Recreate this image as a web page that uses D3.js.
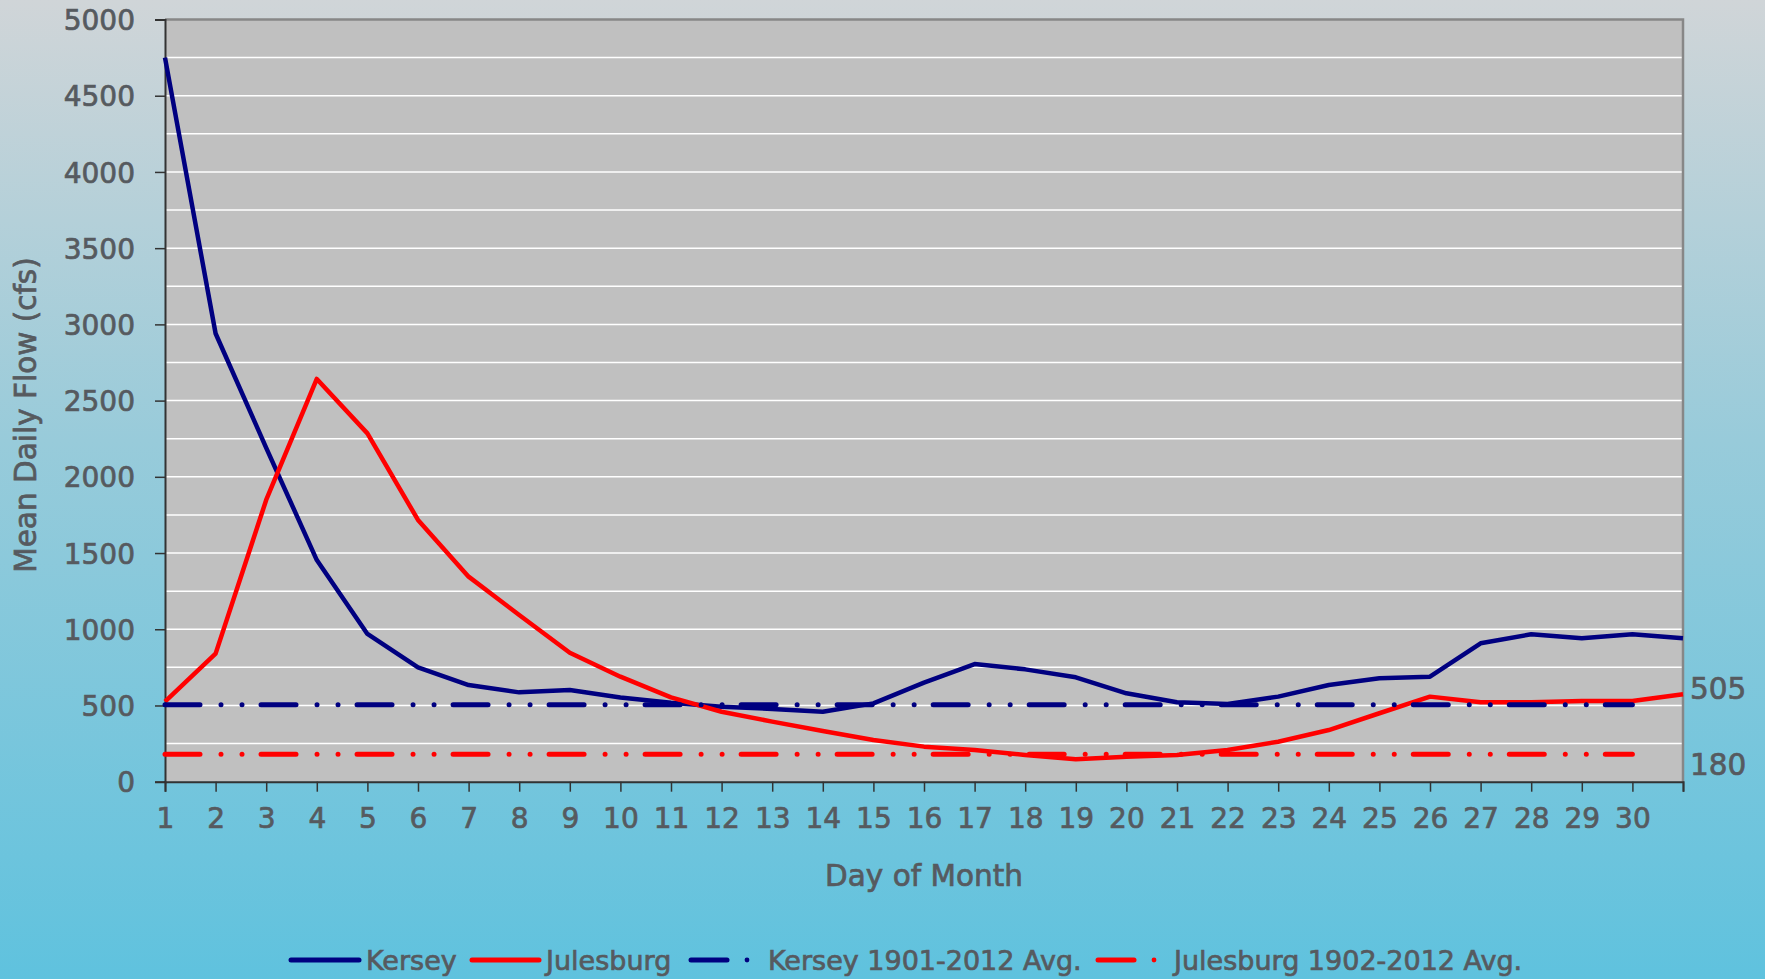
<!DOCTYPE html>
<html><head><meta charset="utf-8">
<script src="https://cdn.jsdelivr.net/npm/d3@7"></script>
<style>html,body{margin:0;padding:0;overflow:hidden}svg{display:block}
text{stroke:#565a5f;stroke-width:0.7px;paint-order:stroke}</style>
</head><body>
<script>
const days = d3.range(1, 32);
const kersey = [4750,2940,2190,1454,969,750,634,586,601,553,518,492,477,459,514,650,772,737,685,580,521,510,558,634,678,689,908,967,941,967,941];
const julesburg = [525,840,1848,2642,2285,1717,1345,1094,846,689,553,459,394,333,274,230,208,175,147,164,175,208,262,339,449,558,521,521,529,529,573];
const kerseyAvg = 505;
const julesburgAvg = 180;
const avgDays = [1, 30];
const yTicks = d3.range(0, 5001, 500);
const xTickLabels = d3.range(1, 31);
const seriesNames = ["Kersey", "Julesburg", "Kersey 1901-2012 Avg.", "Julesburg 1902-2012 Avg."];

const W = 1765, H = 979;
const FONT = "'DejaVu Sans', sans-serif";
const TXT = "#565a5f";
const NAVY = "#000080", RED = "#ff0000";
const DASH = "35,21,0.01,21,0.01,19";

const svg = d3.select("body").append("svg").attr("width", W).attr("height", H);
const defs = svg.append("defs");
const g = defs.append("linearGradient").attr("id", "bg").attr("x1", 0).attr("y1", 0).attr("x2", 0).attr("y2", 1);
g.append("stop").attr("offset", "0%").attr("stop-color", "#d0d5d8");
g.append("stop").attr("offset", "45%").attr("stop-color", "#98cbda");
g.append("stop").attr("offset", "100%").attr("stop-color", "#5fc2de");
svg.append("rect").attr("width", W).attr("height", H).attr("fill", "url(#bg)");

const x = d3.scaleLinear().domain([1, 31]).range([165, 1683]);
const y = d3.scaleLinear().domain([0, 5000]).range([781.7, 19.5]);

// plot area
svg.append("rect").attr("x", x(1)).attr("y", y(5000)).attr("width", x(31) - x(1)).attr("height", y(0) - y(5000)).attr("fill", "#c0c0c0");

// gridlines
svg.append("g").selectAll("line").data(d3.range(250, 5000, 250)).join("line")
  .attr("x1", x(1)).attr("x2", x(31)).attr("y1", d => y(d)).attr("y2", d => y(d))
  .attr("stroke", "#ffffff").attr("stroke-width", 1.5);

// borders top/right
svg.append("path").attr("d", `M${x(1)},${y(5000)}H${x(31)}V${y(0)}`).attr("fill", "none").attr("stroke", "#878787").attr("stroke-width", 2.5);

// y axis
const yAxis = svg.append("g").attr("transform", `translate(${x(1)},0)`)
  .call(d3.axisLeft(y).tickValues(yTicks).tickSize(10).tickPadding(20).tickFormat(d3.format("d")));
yAxis.select(".domain").attr("stroke", "#333").attr("stroke-width", 2);
yAxis.selectAll(".tick line").attr("stroke", "#333").attr("stroke-width", 1.5);
yAxis.selectAll("text").attr("font-family", FONT).attr("font-size", 28).attr("fill", TXT).attr("dy", "0.36em");

// x axis
const xAxis = svg.append("g").attr("transform", `translate(0,${y(0)})`)
  .call(d3.axisBottom(x).tickValues(days).tickSize(10).tickPadding(16)
    .tickFormat(d => xTickLabels.includes(d) ? String(d) : ""));
xAxis.select(".domain").attr("stroke", "#333").attr("stroke-width", 2);
xAxis.selectAll(".tick line").attr("stroke", "#333").attr("stroke-width", 1.5);
xAxis.selectAll("text").attr("font-family", FONT).attr("font-size", 28).attr("fill", TXT).attr("dy", "0.71em");

// axis titles
svg.append("text").attr("transform", "translate(36,415) rotate(-90)").attr("text-anchor", "middle")
  .attr("font-family", FONT).attr("font-size", 29.5).attr("fill", TXT).text("Mean Daily Flow (cfs)");
svg.append("text").attr("x", (x(1) + x(31)) / 2).attr("y", 886).attr("text-anchor", "middle")
  .attr("font-family", FONT).attr("font-size", 29.5).attr("fill", TXT).text("Day of Month");

// lines
const line = d3.line().x((d, i) => x(days[i])).y(d => y(d));
svg.append("path").datum(kersey).attr("d", line).attr("fill", "none").attr("stroke", NAVY).attr("stroke-width", 4.5).attr("stroke-linejoin", "round");
svg.append("path").datum(julesburg).attr("d", line).attr("fill", "none").attr("stroke", RED).attr("stroke-width", 4.5).attr("stroke-linejoin", "round");

// averages
[[kerseyAvg, NAVY], [julesburgAvg, RED]].forEach(([v, c]) => {
  svg.append("line").attr("x1", x(avgDays[0])).attr("x2", x(avgDays[1])).attr("y1", y(v)).attr("y2", y(v))
    .attr("stroke", c).attr("stroke-width", 5).attr("stroke-linecap", "round").attr("stroke-dasharray", DASH);
});

// right labels
svg.append("text").attr("x", 1690).attr("y", y(kerseyAvg) - 6).attr("font-family", FONT).attr("font-size", 29.5).attr("fill", TXT).text(String(kerseyAvg));
svg.append("text").attr("x", 1690).attr("y", y(julesburgAvg) + 21).attr("font-family", FONT).attr("font-size", 29.5).attr("fill", TXT).text(String(julesburgAvg));

// legend
const LY = 960, TY = 970;
const leg = svg.append("g");
const legItems = [
  {name: seriesNames[0], c: NAVY, x0: 291, x1: 359, tx: 366, avg: false},
  {name: seriesNames[1], c: RED, x0: 472, x1: 539, tx: 546, avg: false},
  {name: seriesNames[2], c: NAVY, x0: 691, x1: 727, dot: 747, tx: 768, avg: true},
  {name: seriesNames[3], c: RED, x0: 1098, x1: 1134, dot: 1154, tx: 1174, avg: true}
];
legItems.forEach(it => {
  leg.append("line").attr("x1", it.x0).attr("x2", it.x1).attr("y1", LY).attr("y2", LY)
    .attr("stroke", it.c).attr("stroke-width", 5).attr("stroke-linecap", "round");
  if (it.avg) leg.append("circle").attr("cx", it.dot).attr("cy", LY).attr("r", 2.4).attr("fill", it.c);
  leg.append("text").attr("x", it.tx).attr("y", TY).attr("font-family", FONT).attr("font-size", 27).attr("fill", TXT).text(it.name);
});
</script>
</body></html>
